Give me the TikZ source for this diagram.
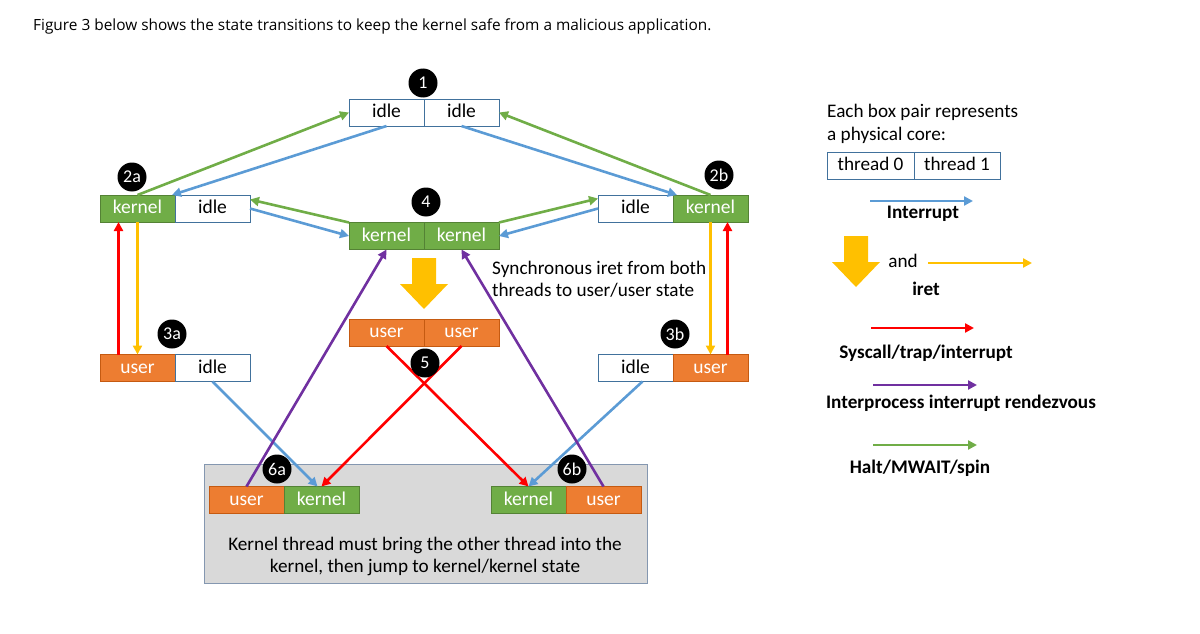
\documentclass[tikz,border=0pt]{standalone}
\usepackage{fontspec}
\setmainfont{Carlito}
\newfontfamily\titlefont{Open Sans}
\usetikzlibrary{arrows.meta,positioning}
\definecolor{kgreen}{HTML}{70AD47}
\definecolor{kgreendark}{HTML}{548235}
\definecolor{uorange}{HTML}{ED7D31}
\definecolor{uorangedark}{HTML}{C55A11}
\definecolor{boxline}{HTML}{41719C}
\definecolor{intblue}{HTML}{5B9BD5}
\definecolor{iretyel}{HTML}{FFC000}
\definecolor{sysred}{HTML}{FF0000}
\definecolor{ipipurple}{HTML}{7030A0}
\definecolor{haltgreen}{HTML}{70AD47}
\definecolor{coregray}{HTML}{D9D9D9}
\definecolor{coreline}{HTML}{8497B0}
\tikzset{
  half/.style={draw=boxline, line width=0.8pt, minimum width=75pt, minimum height=27pt,
    inner sep=0pt, outer sep=0pt, text height=13pt, text depth=3pt,
    font=\fontsize{19.5}{22}\selectfont},
  kern/.style={half, fill=kgreen, draw=kgreendark, text=white},
  usr/.style={half, fill=uorange, draw=uorangedark, text=white},
  idl/.style={half, fill=white},
  badge/.style={circle, fill=black, text=white, minimum size=29pt, inner sep=0pt,
    font=\fontsize{18}{20}\selectfont},
  tr/.style={line width=2.6pt, -{Triangle[length=9pt,width=9pt]}},
  intr/.style={tr, draw=intblue},
  iret/.style={tr, draw=iretyel},
  sysc/.style={tr, draw=sysred},
  ipi/.style={tr, draw=ipipurple},
  halt/.style={tr, draw=haltgreen},
  legtext/.style={font=\fontsize{19.2}{23}\selectfont, inner sep=0pt},
  legbold/.style={font=\bfseries\fontsize{19.2}{23}\selectfont, inner sep=0pt},
  bigdown/.pic={
    \fill[iretyel] (-12,-26) -- (12,-26) -- (12,0) -- (24,0) -- (0,25) -- (-24,0) -- (-12,0) -- cycle;
  }
}
\begin{document}
\begin{tikzpicture}[x=1pt,y=-1pt]
  \useasboundingbox (0,0) rectangle (1200,634);
  \node[anchor=base west, inner sep=0pt, font=\titlefont\fontsize{15.4}{17}\selectfont] (title) at (33,31)
    {Figure 3 below shows the state transitions to keep the kernel safe from a malicious application.};

  % core box holding states 6a and 6b
  \node[draw=coreline, fill=coregray, line width=0.8pt, minimum width=443pt, minimum height=119pt] (core) at (425.5,523.5) {};
  \node[align=center, font=\fontsize{19.2}{22}\selectfont] (corenote) at (425,556)
    {Kernel thread must bring the other thread into the\\kernel, then jump to kernel/kernel state};

  % states
  \node[idl] (one0) at (386.5,112.5) {idle};
  \node[idl, right=0pt of one0] (one1) {idle};
  \node[kern] (twoa0) at (137.5,208.5) {kernel};
  \node[idl, right=0pt of twoa0] (twoa1) {idle};
  \node[idl] (twob0) at (635.5,208.5) {idle};
  \node[kern, right=0pt of twob0] (twob1) {kernel};
  \node[kern] (four0) at (386.5,236) {kernel};
  \node[kern, right=0pt of four0] (four1) {kernel};
  \node[usr] (threea0) at (137.5,368) {user};
  \node[idl, right=0pt of threea0] (threea1) {idle};
  \node[idl] (threeb0) at (635.5,368) {idle};
  \node[usr, right=0pt of threeb0] (threeb1) {user};
  \node[usr] (five0) at (386.5,332.5) {user};
  \node[usr, right=0pt of five0] (five1) {user};
  \node[usr] (sixa0) at (246.5,500) {user};
  \node[kern, right=0pt of sixa0] (sixa1) {kernel};
  \node[kern] (sixb0) at (528.5,500) {kernel};
  \node[usr, right=0pt of sixb0] (sixb1) {user};

  % badges
  \node[badge] (b1) at (423,83) {1};
  \node[badge] (b2a) at (132,177) {2a};
  \node[badge] (b2b) at (719,175) {2b};
  \node[badge] (b4) at (426,202) {4};
  \node[badge] (b3a) at (172,334) {3a};
  \node[badge] (b3b) at (675,334) {3b};
  \node[badge] (b6a) at (277,469) {6a};
  \node[badge] (b6b) at (572,469) {6b};

  \pic at (424,284) {bigdown};
  \node[anchor=north west, align=left, font=\fontsize{19.2}{22}\selectfont, inner sep=0pt] (syncnote) at (492,261)
    {Synchronous iret from both\\threads to user/user state};

  % transitions
  \draw[halt] (twoa0.north) -- (one0.west);
  \draw[intr] (one0.south) -- ([xshift=-3pt]twoa0.north east);
  \draw[intr] (one1.south) -- ([xshift=4pt]twob1.north west);
  \draw[halt] (twob1.north) -- (one1.east);
  \draw[halt] (four0.north west) -- ([yshift=9pt]twoa1.east);
  \draw[intr] (twoa1.east) -- (four0.west);
  \draw[halt] (four1.north east) -- ([yshift=10pt]twob0.west);
  \draw[intr] (twob0.west) -- (four1.east);
  \draw[sysc] ([xshift=-19pt]threea0.north) -- ([xshift=-19pt]twoa0.south);
  \draw[iret] (twoa0.south) -- (threea0.north);
  \draw[iret] (twob1.south) -- (threeb1.north);
  \draw[sysc] ([xshift=17pt]threeb1.north) -- ([xshift=17pt]twob1.south);
  \draw[intr] (threea1.south) -- ([xshift=-4pt]sixa1.north);
  \draw[intr] ([xshift=7pt]threeb0.south) -- (sixb0.north);
  \draw[sysc] (five0.south) -- (sixb0.north);
  \draw[sysc] (five1.south) -- (sixa1.north);
  \draw[ipi] (sixa0.north) -- (four0.south);
  \draw[ipi] (sixb1.north) -- (four1.south);
  \node[badge] (b5) at (425,363) {5};

  % legend
  \node[legtext, anchor=west] (legA) at (827,112) {Each box pair represents};
  \node[legtext, anchor=west] (legB) at (827,135) {a physical core:};
  \node[idl, minimum width=87pt, font=\fontsize{19.2}{22}\selectfont] (th0) at (870.5,165.5) {thread 0};
  \node[idl, minimum width=86pt, font=\fontsize{19.2}{22}\selectfont, right=0pt of th0] (th1) {thread 1};
  \coordinate (lgI0) at (870,201);  \coordinate (lgI1) at (973,201);
  \coordinate (lgY0) at (928,263);  \coordinate (lgY1) at (1032,263);
  \coordinate (lgS0) at (871,328);  \coordinate (lgS1) at (974,328);
  \coordinate (lgP0) at (873,385);  \coordinate (lgP1) at (977,385);
  \coordinate (lgH0) at (873,445);  \coordinate (lgH1) at (977,445);
  \draw[intr] (lgI0) -- (lgI1);
  \node[legbold] (legInt) at (923,214) {Interrupt};
  \pic at (856,262) {bigdown};
  \node[legtext] (legAnd) at (903,261) {and};
  \draw[iret] (lgY0) -- (lgY1);
  \node[legbold] (legIret) at (926,289) {iret};
  \draw[sysc] (lgS0) -- (lgS1);
  \node[legbold] (legSys) at (926,353) {Syscall/trap/interrupt};
  \draw[ipi] (lgP0) -- (lgP1);
  \node[legbold] (legIpi) at (961,403) {Interprocess interrupt rendezvous};
  \draw[halt] (lgH0) -- (lgH1);
  \node[legbold] (legHalt) at (920,468) {Halt/MWAIT/spin};
\end{tikzpicture}
\end{document}
